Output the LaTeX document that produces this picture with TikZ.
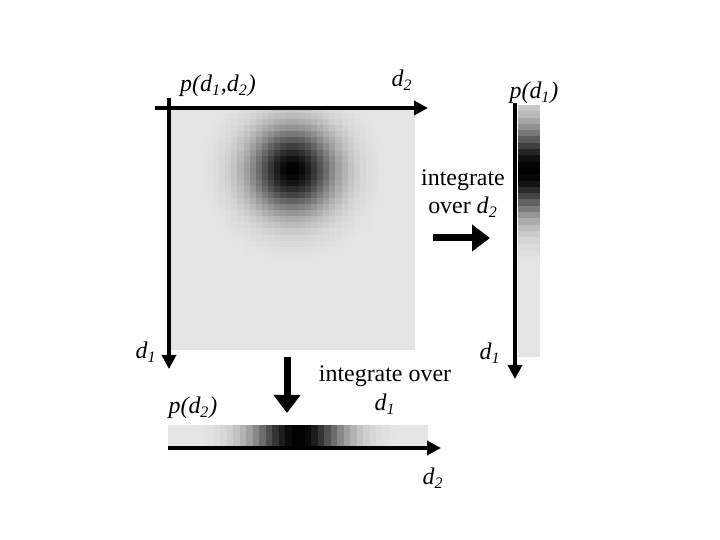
\documentclass[tikz,border=0pt]{standalone}
\usepackage{fontspec}
\setmainfont{Liberation Serif}
\usetikzlibrary{arrows.meta}
\tikzset{
  lbl/.style={inner sep=0pt, font=\fontsize{12}{14}\selectfont},
  axisline/.style={line width=2bp, -{Triangle[length=7bp,width=7bp]}},
  bigarrow/.style={line width=3.5bp, -{Triangle[length=9bp,width=13bp]}},
}
\newcommand{\dd}[1]{\textit{d}\textsubscript{\textit{#1}}}
\def\sig{0.122}
\begin{document}
\begin{tikzpicture}[x=0.5bp,y=-0.5bp]
\useasboundingbox (0,0) rectangle (720,540);
% main square heatmap
\fill[black!10] (170,107) rectangle (415,350);
\foreach \i in {0,...,39}{
  \foreach \j in {0,...,39}{
    \pgfmathsetmacro\u{(\i+0.5)/40-0.5}
    \pgfmathsetmacro\v{(\j+0.5)/40-0.26}
    \pgfmathsetmacro\d{min((\u*\u+\v*\v)/(2*\sig*\sig),15)}
    \pgfmathsetmacro\p{10+90*exp(-\d)}
    \fill[black!\p] ({170+\i*245/40},{107+\j*243/40}) rectangle ({170+(\i+1)*245/40+0.3},{107+(\j+1)*243/40+0.3});
  }
}
% right marginal bar
\foreach \j in {0,...,39}{
  \pgfmathsetmacro\v{(\j+0.5)/40-0.26}
  \pgfmathsetmacro\d{min((\v*\v)/(2*\sig*\sig),15)}
  \pgfmathsetmacro\p{10+90*exp(-\d)}
  \fill[black!\p] (518,{105+\j*252/40}) rectangle (540,{105+(\j+1)*252/40+0.3});
}
% bottom marginal bar
\foreach \i in {0,...,39}{
  \pgfmathsetmacro\u{(\i+0.5)/40-0.5}
  \pgfmathsetmacro\d{min((\u*\u)/(2*\sig*\sig),15)}
  \pgfmathsetmacro\p{10+90*exp(-\d)}
  \fill[black!\p] ({168+\i*260/40},425) rectangle ({168+(\i+1)*260/40+0.3},447);
}
% axis coordinates
\coordinate (topS) at (155,108);
\coordinate (topE) at (428,108);
\coordinate (leftS) at (169,98);
\coordinate (leftE) at (169,369);
\coordinate (rightS) at (515,103);
\coordinate (rightE) at (515,379);
\coordinate (botS) at (168,448);
\coordinate (botE) at (441,448);
\coordinate (rarS) at (433,238);
\coordinate (rarE) at (490,238);
\coordinate (darS) at (287,357);
\coordinate (darE) at (287,413);
\draw[axisline] (topS) -- (topE);
\draw[axisline] (leftS) -- (leftE);
\draw[axisline] (rightS) -- (rightE);
\draw[axisline] (botS) -- (botE);
\draw[bigarrow] (rarS) -- (rarE);
\draw[bigarrow] (darS) -- (darE);
% labels
\node[lbl] (pj) at (218,86) {\textit{p(d\textsubscript{1},d\textsubscript{2})}};
\node[lbl] (d2t) at (402,80) {\dd{2}};
\node[lbl] (p1) at (534,93) {\textit{p(d\textsubscript{1})}};
\node[lbl] (int2a) at (463,180) {integrate};
\node[lbl] (int2b) at (463,207) {over \dd{2}};
\node[lbl] (d1l) at (146,352) {\dd{1}};
\node[lbl] (p2) at (193,408) {\textit{p(d\textsubscript{2})}};
\node[lbl] (int1a) at (385,376) {integrate over};
\node[lbl] (int1b) at (385,404) {\dd{1}};
\node[lbl] (d1r) at (490,353) {\dd{1}};
\node[lbl] (d2b) at (433,478) {\dd{2}};
\end{tikzpicture}
\end{document}
